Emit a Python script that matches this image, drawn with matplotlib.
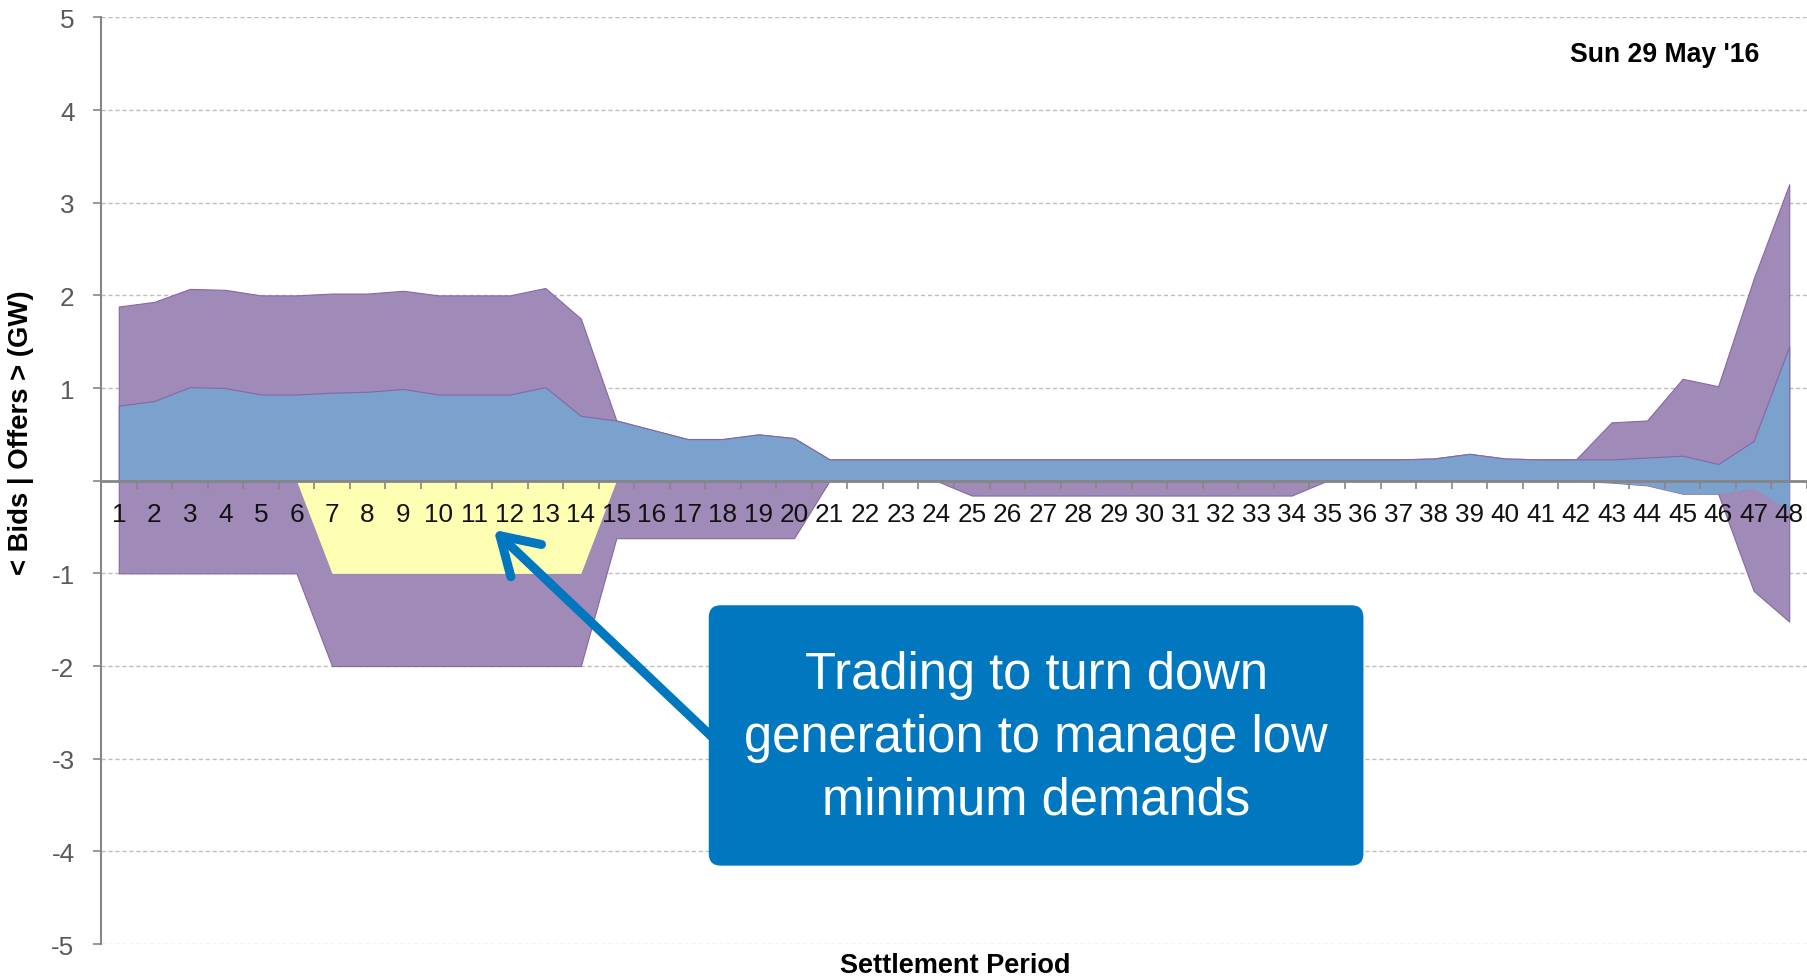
import matplotlib
matplotlib.use("Agg")
from matplotlib import pyplot as plt
from matplotlib.patches import FancyBboxPatch

plt.rcParams['font.family'] = ['Liberation Sans', 'DejaVu Sans']

# settlement periods 1..48
periods = list(range(1, 49))

# offers side (GW): top of purple area and top of blue area
offers_total = [1.88, 1.93, 2.07, 2.06, 2.00, 2.00, 2.02, 2.02, 2.05, 2.00, 2.00, 2.00,
                2.08, 1.75, 0.65, 0.55, 0.45, 0.45, 0.50, 0.46, 0.23, 0.23, 0.23, 0.23,
                0.23, 0.23, 0.23, 0.23, 0.23, 0.23, 0.23, 0.23, 0.23, 0.23, 0.23, 0.23,
                0.23, 0.24, 0.29, 0.24, 0.23, 0.23, 0.63, 0.65, 1.10, 1.02, 2.18, 3.20]
offers_blue = [0.81, 0.86, 1.01, 1.00, 0.93, 0.93, 0.95, 0.96, 0.99, 0.93, 0.93, 0.93,
               1.01, 0.70, 0.65, 0.55, 0.45, 0.45, 0.50, 0.46, 0.23, 0.23, 0.23, 0.23,
               0.23, 0.23, 0.23, 0.23, 0.23, 0.23, 0.23, 0.23, 0.23, 0.23, 0.23, 0.23,
               0.23, 0.24, 0.29, 0.24, 0.23, 0.23, 0.23, 0.25, 0.27, 0.18, 0.43, 1.45]

# bids side (GW)
bids_total = [-1.0, -1.0, -1.0, -1.0, -1.0, -1.0, -2.0, -2.0, -2.0, -2.0, -2.0, -2.0,
              -2.0, -2.0, -0.62, -0.62, -0.62, -0.62, -0.62, -0.62, 0.0, 0.0, 0.0, 0.0,
              -0.16, -0.16, -0.16, -0.16, -0.16, -0.16, -0.16, -0.16, -0.16, -0.16, 0.0, 0.0,
              0.0, 0.0, 0.0, 0.0, 0.0, 0.0, -0.02, -0.05, -0.14, -0.14, -1.19, -1.52]
bids_yellow = [0.0, 0.0, 0.0, 0.0, 0.0, 0.0, -1.0, -1.0, -1.0, -1.0, -1.0, -1.0,
               -1.0, -1.0, 0.0, 0.0, 0.0, 0.0, 0.0, 0.0, 0.0, 0.0, 0.0, 0.0,
               0.0, 0.0, 0.0, 0.0, 0.0, 0.0, 0.0, 0.0, 0.0, 0.0, 0.0, 0.0,
               0.0, 0.0, 0.0, 0.0, 0.0, 0.0, 0.0, 0.0, 0.0, 0.0, 0.0, 0.0]
bids_blue = [0.0] * 42 + [-0.02, -0.05, -0.14, -0.14, -0.08, -0.32]

y_ticks = [-5, -4, -3, -2, -1, 0, 1, 2, 3, 4, 5]
y_ticklabels = ['-5', '-4', '-3', '-2', '-1', '', '1', '2', '3', '4', '5']

purple = '#A08AB8'
blue = '#7BA1CD'
yellow = '#FFFFB4'
edge = '#8468A6'
callout = '#0077BE'

fig = plt.figure(figsize=(18.07, 9.79), dpi=100)
ax = fig.add_axes([0.0559, 0.0347, 0.9441, 0.9465])

# dashed grid behind the areas
for y in y_ticks:
    if y != 0:
        ax.axhline(y, color='#BEBEBE', lw=1.0, ls=(0, (3, 2)), zorder=0)

ax.fill_between(periods, 0, offers_total, color=purple, ec=edge, lw=0.8, zorder=1)
ax.fill_between(periods, 0, offers_blue, color=blue, ec=edge, lw=0.8, zorder=1)
ax.fill_between(periods, bids_total, 0, color=purple, ec=edge, lw=0.8, zorder=1)
ax.fill_between(periods, bids_yellow, 0, color=yellow, lw=0, zorder=1)
ax.fill_between(periods, bids_blue, 0, color=blue, lw=0, zorder=1)

ax.set_xlim(0.5, 48.5)
ax.set_ylim(-5, 5)

ax.spines['top'].set_visible(False)
ax.spines['right'].set_visible(False)
ax.spines['bottom'].set_position(('data', 0))
ax.spines['bottom'].set_color('#868686')
ax.spines['bottom'].set_linewidth(2.0)
ax.spines['left'].set_color('#868686')
ax.spines['left'].set_linewidth(1.5)

ax.set_xticks(periods)
ax.set_xticklabels([str(p) for p in periods])
ax.set_xticks([p + 0.5 for p in range(0, 49)], minor=True)
ax.tick_params(axis='x', which='major', length=0, pad=15, labelsize=18.8, labelcolor='#111111')
ax.tick_params(axis='x', which='minor', length=6, width=1.2, color='#868686', direction='out')

ax.set_yticks(y_ticks)
ax.set_yticklabels(y_ticklabels)
ax.tick_params(axis='y', length=6, width=1.2, color='#868686', pad=13, labelsize=18.8,
               labelcolor='#595959')

fig.text(21 / 1807, 1 - 433 / 979, '< Bids | Offers > (GW)', rotation=90,
         ha='center', va='center', fontsize=19.8, fontweight='bold')
fig.text(955 / 1807, 1 - 966 / 979, 'Settlement Period', ha='center', va='center',
         fontsize=19.5, fontweight='bold')
fig.text(1665 / 1807, 1 - 55 / 979, "Sun 29 May '16", ha='center', va='center',
         fontsize=19.2, fontweight='bold')

# callout arrow and box
ax.annotate('', xy=(11.55, -0.53), xytext=(18.2, -2.95),
            arrowprops=dict(arrowstyle='->,head_length=2.6,head_width=1.6', lw=6.5,
                            color=callout, mutation_scale=10, shrinkA=0, shrinkB=0),
            zorder=4)
box = FancyBboxPatch((17.60, -4.154), 18.42, 2.81,
                     boxstyle='round,pad=0,rounding_size=0.34', mutation_aspect=0.381,
                     fc=callout, ec='none', zorder=5)
ax.add_patch(box)
ax.text(26.81, -2.77, 'Trading to turn down\ngeneration to manage low\nminimum demands',
        ha='center', va='center', fontsize=36.5, color='white', linespacing=1.36, zorder=6)

fig.savefig('out.png', dpi=100)
